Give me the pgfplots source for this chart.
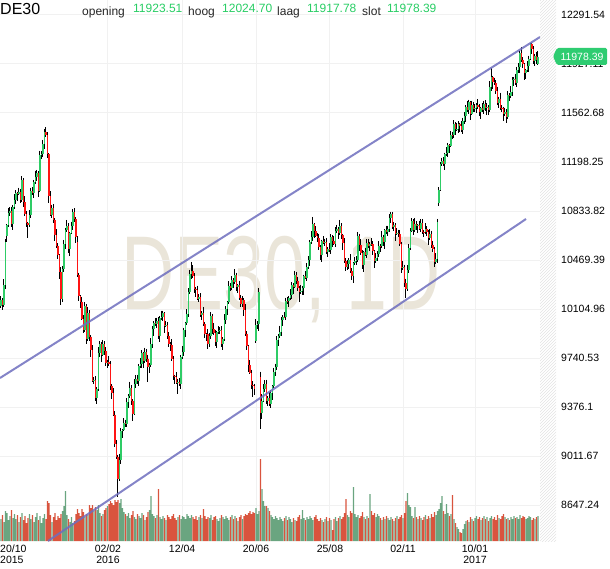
\documentclass[border=0pt]{standalone}
\usepackage{pgfplots}
\pgfplotsset{compat=1.18}
\usepackage{pgfplotstable}
\usepackage{fontspec}
\setmainfont{Liberation Sans}
\usetikzlibrary{patterns}
\definecolor{upc}{RGB}{46,204,102}
\definecolor{dnc}{RGB}{255,20,20}
\definecolor{vup}{RGB}{106,165,128}
\definecolor{vdn}{RGB}{217,84,62}
\definecolor{tline}{RGB}{110,110,190}
\definecolor{grd}{RGB}{241,241,241}
\definecolor{wm}{RGB}{234,229,217}
\definecolor{hdrg}{RGB}{40,205,100}
\definecolor{tagc}{RGB}{46,204,113}

\pgfplotstableread{
i o h l c v
0 10130 10200 10110 10170 22
1 10170 10185 10098 10138 26
2 10138 10326 10123 10281 19
3 10281 10625 10251 10605 30
4 10650 10736 10600 10726 28
5 10726 10853 10716 10818 21
6 10818 10861 10793 10836 25
7 10836 10866 10715 10735 31
8 10735 10879 10695 10864 23
9 10864 10960 10849 10915 27
10 10915 10988 10885 10968 22
11 10968 10978 10910 10960 26
12 10960 11008 10950 10973 19
13 10973 10998 10894 10919 24
14 10919 11092 10899 11062 28
15 11062 11077 10860 10900 21
16 10900 10945 10796 10811 25
17 10811 10831 10713 10743 18
18 10743 10753 10630 10728 23
19 10728 10840 10718 10805 27
20 10805 11008 10780 10983 22
21 10983 11013 10950 10970 26
22 10970 11065 10930 11050 19
23 11050 11135 11035 11090 24
24 11090 11140 11060 11120 28
25 11120 11130 10935 10985 21
26 10985 11283 10975 11248 25
27 11248 11280 11223 11255 18
28 11255 11362 11235 11332 23
29 11332 11440 11292 11425 27
30 11425 11455 11383 11398 22
31 11398 11418 11225 11255 40
32 11255 11265 10896 10946 38
33 10946 10981 10795 10805 26
34 10805 10881 10780 10856 19
35 10856 10886 10745 10765 24
36 10765 10780 10613 10653 28
37 10653 10698 10560 10575 21
38 10575 10595 10474 10504 25
39 10504 10514 10330 10380 23
40 10380 10415 10135 10179 27
41 10179 10426 10154 10401 30
42 10401 10620 10381 10590 35
43 10590 10710 10550 10695 50
44 10695 10767 10680 10722 26
45 10722 10742 10520 10550 22
46 10550 10680 10500 10670 19
47 10670 10755 10660 10720 24
48 10720 10849 10695 10824 18
49 10824 10854 10752 10772 20
50 10772 10787 10599 10639 27
51 10600 10645 10340 10355 32
52 10355 10375 10168 10198 28
53 10198 10208 10110 10160 25
54 10160 10195 10023 10033 32
55 10033 10058 9926 9951 29
56 9951 10157 9931 10127 24
57 10127 10142 9843 9883 27
58 9883 10120 9868 10075 26
59 10075 10095 9870 9900 36
60 9900 9910 9750 9800 33
61 9800 9835 9561 9571 36
62 9571 9600 9546 9575 30
63 9575 9605 9421 9441 34
64 9441 9525 9401 9510 31
65 9510 9824 9495 9779 36
66 9779 9867 9749 9847 28
67 9847 9857 9713 9763 25
68 9763 9876 9753 9841 27
69 9841 9866 9765 9790 31
70 9790 9820 9684 9704 33
71 9704 9723 9664 9708 35
72 9708 9753 9683 9698 37
73 9698 9718 9505 9535 40
74 9535 9545 9432 9482 38
75 9482 9517 9310 9320 36
76 9320 9345 9076 9101 41
77 9101 9131 8987 9007 39
78 9007 9022 8705 8843 41
79 8843 9030 8828 8985 38
80 8985 9218 8955 9198 42
81 9198 9214 9148 9204 33
82 9204 9292 9194 9257 29
83 9257 9282 9225 9250 27
84 9250 9441 9230 9411 25
85 9411 9474 9371 9459 28
86 9459 9564 9444 9519 23
87 9519 9539 9392 9422 26
88 9422 9432 9274 9324 30
89 9324 9581 9314 9546 24
90 9546 9612 9521 9587 22
91 9587 9617 9550 9570 27
92 9570 9696 9530 9681 25
93 9681 9742 9666 9697 23
94 9697 9798 9667 9778 28
95 9778 9788 9665 9715 26
96 9715 9818 9705 9783 21
97 9783 9808 9710 9735 24
98 9735 9765 9560 9671 29
99 9671 9704 9631 9689 31
100 9689 9889 9674 9844 45
101 9844 9975 9814 9955 27
102 9955 10013 9905 10003 25
103 10003 10038 9980 9990 23
104 9990 10041 9965 10016 26
105 10016 10046 9881 9901 52
106 9901 10053 9861 10038 24
107 10038 10092 10023 10047 22
108 10047 10092 10017 10072 25
109 10072 10082 9930 9980 23
110 9980 10019 9970 9984 21
111 9984 10009 9880 9905 26
112 9905 9935 9824 9844 24
113 9844 9859 9794 9834 22
114 9834 9879 9721 9736 25
115 9736 9756 9577 9607 27
116 9607 9617 9550 9600 23
117 9600 9635 9546 9556 21
118 9556 9588 9470 9563 24
119 9563 9593 9530 9550 26
120 9550 9761 9510 9746 22
121 9746 9830 9731 9785 25
122 9785 9966 9755 9946 24
123 9946 10009 9896 9999 22
124 9999 10102 9989 10067 27
125 10067 10259 10042 10234 25
126 10234 10398 10214 10368 23
127 10368 10455 10328 10385 26
128 10385 10430 10336 10351 24
129 10351 10371 10225 10255 22
130 10255 10265 10193 10243 25
131 10243 10278 10170 10180 21
132 10180 10217 10155 10192 24
133 10192 10222 10043 10063 26
134 10063 10091 10023 10076 23
135 10076 10121 9975 9990 32
136 9990 10010 9889 9919 25
137 9919 9929 9868 9918 22
138 9918 9953 9805 9847 24
139 9847 9929 9822 9904 23
140 9904 10083 9884 10053 26
141 10053 10068 9917 9957 21
142 9957 10002 9911 9926 24
143 9926 9946 9833 9863 25
144 9863 9941 9813 9931 22
145 9931 9977 9921 9942 20
146 9942 9971 9917 9946 23
147 9946 9976 9821 9841 26
148 9841 9896 9801 9881 24
149 9881 10065 9866 10020 22
150 10020 10127 9990 10107 25
151 10107 10165 10057 10155 23
152 10155 10311 10145 10276 21
153 10276 10301 10239 10264 24
154 10264 10347 10244 10317 26
155 10317 10332 10264 10304 22
156 10304 10400 10289 10355 25
157 10355 10375 10241 10271 23
158 10271 10291 10221 10281 20
159 10281 10316 10175 10185 24
160 10185 10210 10117 10142 26
161 10142 10200 10122 10170 22
162 10170 10185 10056 10096 25
163 10096 10141 9906 9921 27
164 9921 9941 9800 9830 26
165 9830 9840 9638 9688 28
166 9688 9723 9619 9629 30
167 9629 9654 9513 9538 27
168 9538 9568 9450 9534 29
169 9534 9549 9467 9507 28
170 9870 10029 9855 9984 33
171 9984 10015 9954 9993 27
172 9993 10262 9943 10230 30
173 9600 9640 9215 9330 82
174 9330 9470 9290 9420 52
175 9420 9544 9410 9509 40
176 9509 9575 9484 9550 35
177 9550 9580 9401 9421 35
178 9421 9455 9381 9440 33
179 9440 9485 9385 9400 30
180 9400 9500 9370 9480 26
181 9480 9539 9430 9529 24
182 9529 9669 9519 9634 22
183 9634 9698 9609 9673 25
184 9673 9902 9653 9872 23
185 9872 9921 9832 9906 21
186 9906 9982 9891 9937 24
187 9937 10045 9907 10025 22
188 10025 10058 9975 10048 20
189 10048 10083 10037 10047 23
190 10047 10190 10022 10165 25
191 10165 10195 10142 10162 21
192 10162 10202 10122 10187 24
193 10187 10253 10172 10208 22
194 10208 10305 10178 10285 19
195 10285 10295 10218 10268 23
196 10268 10391 10258 10356 21
197 10356 10381 10290 10315 20
198 10315 10345 10240 10260 24
199 10260 10275 10160 10234 26
200 10234 10283 10219 10238 22
201 10238 10278 10208 10258 31
202 10258 10361 10208 10351 23
203 10351 10386 10329 10339 21
204 10339 10446 10314 10421 24
205 10421 10496 10401 10466 22
206 10466 10616 10426 10601 25
207 10601 10684 10586 10639 23
208 10639 10790 10609 10735 21
209 10735 10745 10635 10685 24
210 10685 10720 10637 10647 26
211 10647 10672 10605 10630 22
212 10630 10660 10545 10565 20
213 10565 10580 10467 10507 23
214 10507 10621 10457 10611 21
215 10611 10646 10589 10599 19
216 10599 10629 10574 10604 22
217 10604 10634 10511 10531 24
218 10531 10564 10491 10549 20
219 10549 10594 10528 10543 23
220 10543 10662 10513 10642 21
221 10642 10652 10564 10614 11
222 10614 10649 10578 10588 22
223 10588 10712 10563 10687 24
224 10687 10732 10667 10702 20
225 10702 10717 10628 10668 23
226 10668 10767 10653 10722 25
227 10722 10742 10624 10654 22
228 10654 10664 10545 10595 24
229 10595 10630 10449 10459 28
230 10459 10484 10390 10415 42
231 10415 10470 10395 10440 26
232 10440 10482 10400 10467 24
233 10467 10512 10372 10387 30
234 10387 10407 10320 10350 28
235 10350 10454 10300 10444 54
236 10444 10495 10434 10460 27
237 10460 10496 10435 10471 24
238 10471 10678 10451 10648 26
239 10648 10663 10540 10580 23
240 10580 10625 10506 10521 25
241 10521 10541 10400 10430 29
242 10430 10537 10380 10527 24
243 10527 10562 10500 10510 22
244 10510 10622 10485 10597 25
245 10597 10627 10555 10575 23
246 10575 10603 10535 10588 47
247 10588 10633 10573 10587 30
248 10587 10607 10505 10535 26
249 10535 10545 10409 10459 28
250 10459 10520 10449 10485 24
251 10485 10537 10460 10512 27
252 10512 10607 10492 10577 25
253 10577 10592 10530 10570 23
254 10570 10683 10555 10638 21
255 10638 10658 10574 10604 24
256 10604 10700 10554 10690 22
257 10690 10725 10665 10675 25
258 10675 10725 10650 10700 23
259 10700 10813 10680 10783 21
260 10783 10829 10743 10814 24
261 10814 10830 10700 10715 22
262 10715 10753 10685 10733 20
263 10733 10743 10612 10662 23
264 10662 10705 10652 10670 25
265 10670 10695 10638 10663 22
266 10663 10693 10570 10590 24
267 10590 10605 10371 10411 26
268 10411 10460 10396 10415 23
269 10415 10435 10265 10295 28
270 10295 10330 10185 10250 40
271 10250 10430 10240 10395 48
272 10395 10585 10370 10560 36
273 10560 10705 10545 10685 34
274 10685 10780 10675 10760 25
275 10760 10775 10652 10692 23
276 10692 10782 10677 10737 34
277 10737 10757 10691 10721 24
278 10721 10737 10671 10727 22
279 10727 10762 10690 10700 25
280 10700 10771 10675 10746 23
281 10746 10776 10661 10681 21
282 10681 10696 10637 10677 24
283 10677 10744 10662 10699 26
284 10699 10719 10650 10680 22
285 10680 10690 10581 10631 25
286 10631 10698 10621 10663 23
287 10663 10688 10559 10584 27
288 10584 10614 10528 10548 24
289 10548 10563 10417 10457 29
290 10457 10520 10442 10475 26
291 10475 10775 10450 10750 30
292 10893 11010 10870 10990 32
293 10990 11200 10980 11180 38
294 11180 11230 11170 11205 45
295 11205 11237 11172 11182 30
296 11182 11268 11142 11258 27
297 11258 11308 11243 11263 37
298 11263 11341 11233 11321 28
299 11321 11331 11268 11318 25
300 11318 11432 11308 11397 27
301 11397 11422 11371 11396 46
302 11396 11508 11376 11478 22
303 11478 11493 11402 11442 18
304 11442 11487 11427 11443 14
305 11443 11502 11413 11482 12
306 11482 11492 11418 11468 9
307 11468 11503 11423 11433 8
308 11433 11528 11408 11503 12
309 11503 11568 11483 11538 17
310 11538 11622 11498 11607 20
311 11607 11652 11570 11585 21
312 11585 11662 11555 11642 19
313 11642 11652 11508 11558 24
314 11558 11655 11548 11620 22
315 11620 11645 11567 11592 20
316 11592 11629 11572 11599 23
317 11599 11636 11559 11621 25
318 11621 11666 11595 11610 22
319 11610 11630 11539 11569 24
320 11569 11610 11519 11600 21
321 11600 11635 11572 11582 23
322 11582 11654 11557 11629 25
323 11629 11659 11578 11598 22
324 11598 11635 11548 11605 24
325 11605 11620 11547 11587 20
326 11587 11800 11572 11755 23
327 11755 11895 11725 11830 25
328 11830 11840 11740 11790 22
329 11790 11825 11773 11783 24
330 11783 11808 11704 11729 21
331 11729 11759 11619 11639 26
332 11639 11685 11599 11670 23
333 11670 11715 11587 11602 22
334 11602 11622 11570 11600 25
335 11600 11610 11504 11554 27
336 11554 11603 11544 11568 24
337 11568 11593 11490 11535 22
338 11535 11724 11515 11694 23
339 11694 11709 11649 11689 21
340 11689 11763 11674 11718 24
341 11718 11830 11688 11810 22
342 11810 11828 11760 11818 25
343 11818 11853 11774 11784 23
344 11784 11907 11759 11882 24
345 11882 11932 11862 11902 22
346 11902 12024 11862 12009 26
347 12009 12054 11943 11958 23
348 11958 11978 11895 11925 25
349 11925 11935 11809 11859 24
350 11859 11890 11819 11880 22
351 11880 11950 11870 11915 23
352 11915 11989 11865 11964 25
353 11964 12085 11954 12075 24
354 12075 12085 12001 12041 21
355 12041 12061 11930 11950 23
356 11950 12002 11910 11987 22
357 11987 12017 11930 11955 24
358 11923.51 12024.70 11917.78 11978.39 25
}\data

\pgfplotsset{
  geom/.style={at={(0pt,27pt)}, anchor=south west, width=540pt, height=541pt,
    scale only axis, xmin=-0.667, xmax=359.333},
  tickfont/.style={font=\fontsize{10.5}{11}\selectfont},
}

\begin{document}
\begin{tikzpicture}
\path[use as bounding box] (0,0) rectangle (610pt,568pt);
% hatched band right of plot
\fill[pattern=north east lines, pattern color=black!11] (540pt,27pt) rectangle (556pt,568pt);
% watermark
\node[anchor=base, text=wm, font=\fontsize{105}{105}\selectfont, xscale=0.7, inner sep=0pt] at (281pt,258pt) {DE30, 1D};

% grid and tick labels
\begin{axis}[geom, ymin=8379.5, ymax=12403.1,
  axis line style={draw=none}, major tick length=0pt,
  grid=major, grid style={grd, line width=1pt},
  xtick={71.3,120.7,170,219.3,268,316},
  xticklabels={{02/02\\2016},12/04,20/06,25/08,02/11,{10/01\\2017}},
  xticklabel style={tickfont, align=center, anchor=north, inner sep=0pt, yshift=-4pt},
  ytick={8647.24,9011.67,9376.1,9740.53,10104.96,10469.39,10833.82,11198.25,11562.68,11927.11,12291.54},
  yticklabels={8647.24,9011.67,9376.1,9740.53,10104.96,10469.39,10833.82,11198.25,11562.68,11927.11,12291.54},
  yticklabel pos=right,
  yticklabel style={tickfont, anchor=west, inner sep=0pt, xshift=21pt},
]
\end{axis}

% volume
\begin{axis}[geom, ymin=0, ymax=541, hide axis, ybar, bar width=1.3pt]
\addplot[fill=vup, draw=none, bar shift=0pt] table[x=i, y expr={\thisrow{c}<\thisrow{o} ? nan : \thisrow{v}}] {\data};
\addplot[fill=vdn, draw=none, bar shift=0pt] table[x=i, y expr={\thisrow{c}<\thisrow{o} ? \thisrow{v} : nan}] {\data};
\end{axis}

% candles and trend lines
\begin{axis}[geom, ymin=8379.5, ymax=12403.1, hide axis]
\addplot[draw=none, mark=none, error bars/.cd, y dir=minus, y explicit, error mark=none,
  error bar style={draw=black, line width=0.9pt, xshift=-0.5pt}]
  table[x=i, y=h, y error expr=\thisrow{h}-\thisrow{l}] {\data};
\addplot[draw=none, mark=none, error bars/.cd, y dir=minus, y explicit, error mark=none,
  error bar style={draw=upc, line width=1.7pt}]
  table[x=i, y expr={\thisrow{c}<\thisrow{o} ? nan : \thisrow{c}}, y error expr=\thisrow{c}-\thisrow{o}] {\data};
\addplot[draw=none, mark=none, error bars/.cd, y dir=minus, y explicit, error mark=none,
  error bar style={draw=dnc, line width=1.7pt}]
  table[x=i, y expr={\thisrow{c}<\thisrow{o} ? \thisrow{o} : nan}, y error expr=\thisrow{o}-\thisrow{c}] {\data};
\addplot[tline, line width=2pt, opacity=0.85] coordinates {(-0.667,9591.8) (359.333,12127.9)};
\addplot[tline, line width=2pt, opacity=0.85] coordinates {(31.3,8379.5) (350,10774.3)};
\end{axis}

% first date label
\node[anchor=north west, align=left, inner sep=0pt, font=\fontsize{10.5}{11}\selectfont] at (0pt,23pt) {20/10\\2015};

% price tag
\fill[tagc, rounded corners=1.5pt] (553pt,511.5pt) -- (557pt,520pt) -- (607pt,520pt) -- (607pt,503pt) -- (557pt,503pt) -- cycle;
\node[text=white, font=\fontsize{10.5}{11}\selectfont, inner sep=0pt] at (582pt,511.5pt) {11978.39};

% header
\node[anchor=base west, inner sep=0pt, font=\fontsize{16}{16}\selectfont] at (0pt,553.5pt) {DE30};
\node[anchor=base west, inner sep=0pt, font=\fontsize{12}{12}\selectfont, text=black!85] at (82pt,552.5pt) {opening};
\node[anchor=base west, inner sep=0pt, font=\fontsize{12}{12}\selectfont, text=hdrg] at (133pt,555.5pt) {11923.51};
\node[anchor=base west, inner sep=0pt, font=\fontsize{12}{12}\selectfont, text=black!85] at (188pt,552.5pt) {hoog};
\node[anchor=base west, inner sep=0pt, font=\fontsize{12}{12}\selectfont, text=hdrg] at (222pt,555.5pt) {12024.70};
\node[anchor=base west, inner sep=0pt, font=\fontsize{12}{12}\selectfont, text=black!85] at (277pt,552.5pt) {laag};
\node[anchor=base west, inner sep=0pt, font=\fontsize{12}{12}\selectfont, text=hdrg] at (307pt,555.5pt) {11917.78};
\node[anchor=base west, inner sep=0pt, font=\fontsize{12}{12}\selectfont, text=black!85] at (362pt,552.5pt) {slot};
\node[anchor=base west, inner sep=0pt, font=\fontsize{12}{12}\selectfont, text=hdrg] at (387pt,555.5pt) {11978.39};
\end{tikzpicture}
\end{document}
